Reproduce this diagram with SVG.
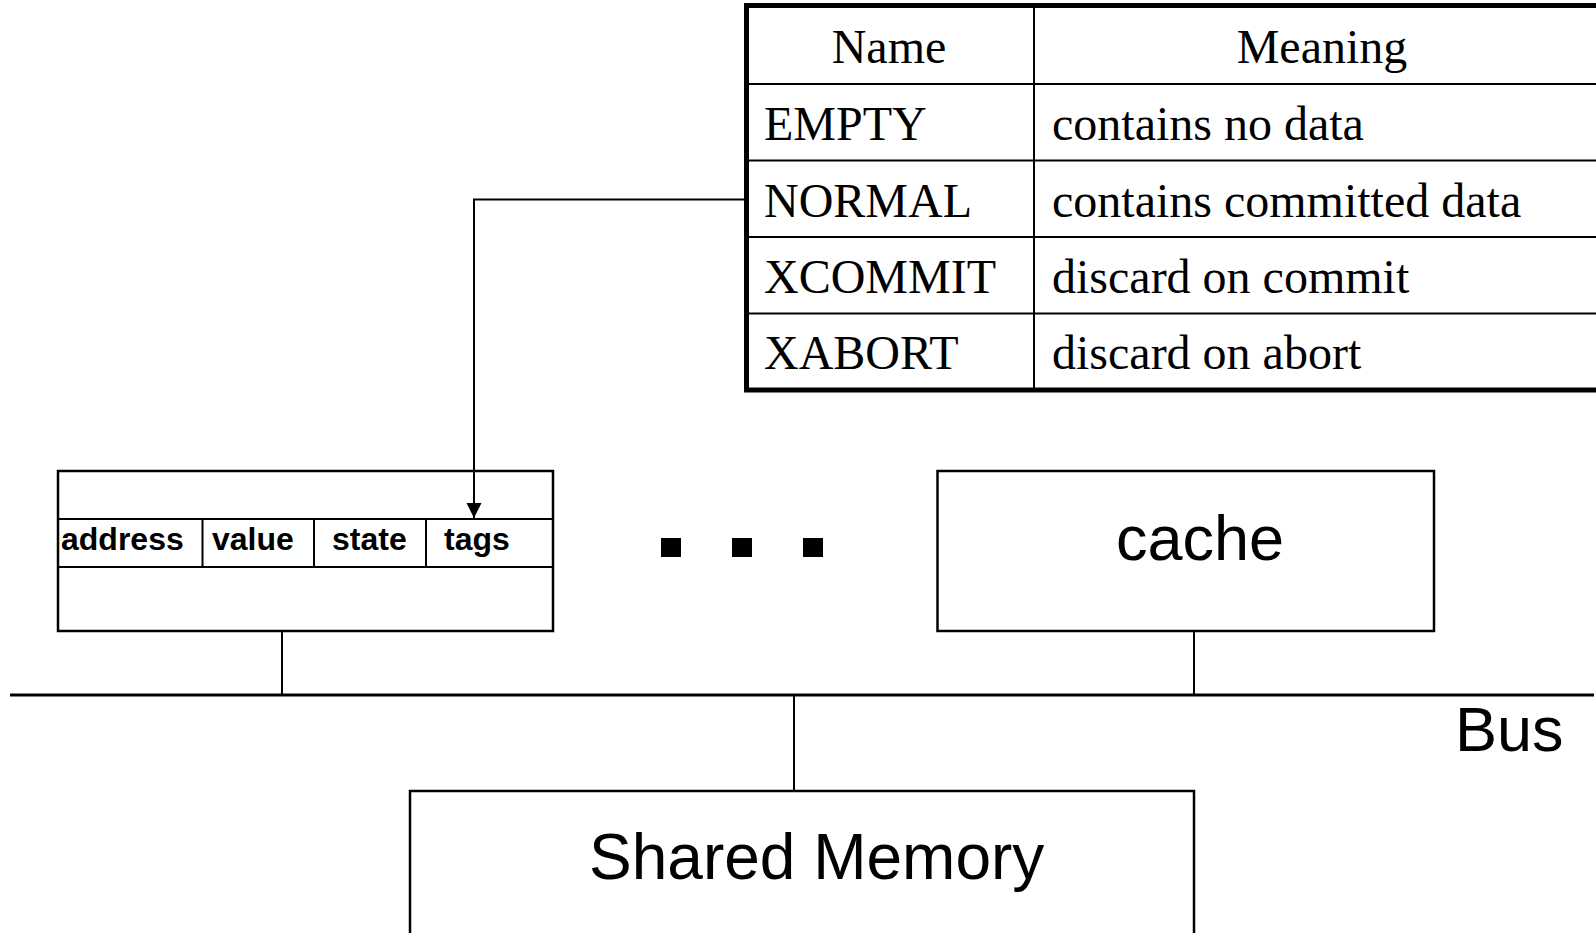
<svg xmlns="http://www.w3.org/2000/svg" width="1596" height="933" viewBox="0 0 1596 933">
<style>
.serif{font-family:"Liberation Serif","Times New Roman",serif;font-size:48px;fill:#000}
.sans{font-family:"Liberation Sans",Arial,sans-serif;font-size:63px;fill:#000}
.bold{font-family:"Liberation Sans",Arial,sans-serif;font-size:32px;font-weight:bold;fill:#000}
.thin{stroke:#000;stroke-width:2;fill:none}
.box{stroke:#000;stroke-width:2.5;fill:#fff}
</style>
<defs>
<marker id="arr" markerUnits="userSpaceOnUse" markerWidth="16" markerHeight="16" refX="15" refY="7.5" orient="auto">
<path d="M0,0 L15,7.5 L0,15 Z" fill="#000"/>
</marker>
</defs>
<rect width="1596" height="933" fill="#fff"/>

<g id="state-table">
<rect x="746.5" y="5.5" width="872" height="384.5" fill="#fff" stroke="#000" stroke-width="5"/>
<line class="thin" x1="1034" y1="6" x2="1034" y2="390"/>
<line class="thin" x1="749" y1="84" x2="1620" y2="84" stroke-width="2.5"/>
<line class="thin" x1="749" y1="160.5" x2="1620" y2="160.5" stroke-width="2.5"/>
<line class="thin" x1="749" y1="237" x2="1620" y2="237" stroke-width="2.5"/>
<line class="thin" x1="749" y1="313.5" x2="1620" y2="313.5" stroke-width="2.5"/>
<text class="serif" x="889" y="63" text-anchor="middle">Name</text>
<text class="serif" x="1322" y="63" text-anchor="middle">Meaning</text>
<text class="serif" x="764" y="139.5">EMPTY</text>
<text class="serif" x="1052" y="139.5">contains no data</text>
<text class="serif" x="764" y="216.5">NORMAL</text>
<text class="serif" x="1052" y="216.5">contains committed data</text>
<text class="serif" x="764" y="292.5">XCOMMIT</text>
<text class="serif" x="1052" y="292.5">discard on commit</text>
<text class="serif" x="764" y="369">XABORT</text>
<text class="serif" x="1052" y="369">discard on abort</text>
</g>

<g id="cache-line">
<rect class="box" x="58" y="471" width="495" height="160" stroke-width="2"/>
<line class="thin" x1="58" y1="519" x2="553" y2="519"/>
<line class="thin" x1="58" y1="567" x2="553" y2="567"/>
<line class="thin" x1="202.5" y1="519" x2="202.5" y2="567"/>
<line class="thin" x1="314" y1="519" x2="314" y2="567"/>
<line class="thin" x1="426" y1="519" x2="426" y2="567"/>
<text class="bold" x="61" y="549.5">address</text>
<text class="bold" x="212" y="549.5">value</text>
<text class="bold" x="332" y="549.5">state</text>
<text class="bold" x="444" y="549.5">tags</text>
</g>

<g id="ellipsis">
<rect x="661" y="538" width="20" height="19" fill="#000"/>
<rect x="732" y="538" width="20" height="19" fill="#000"/>
<rect x="803" y="538" width="20" height="19" fill="#000"/>
</g>

<g id="cache">
<rect class="box" x="937.5" y="471" width="496.5" height="160"/>
<text class="sans" x="1116" y="560">cache</text>
</g>

<g id="bus">
<line x1="10" y1="695" x2="1594" y2="695" stroke="#000" stroke-width="3"/>
<text class="sans" x="1455" y="750.5">Bus</text>
</g>

<g id="shared-memory">
<rect class="box" x="410" y="791" width="784" height="160" stroke-width="2.7"/>
<text class="sans" x="589" y="879" style="font-size:64px">Shared Memory</text>
</g>

<g id="connectors">
<polyline class="thin" points="744,199.5 474,199.5 474,518" marker-end="url(#arr)"/>
<line class="thin" x1="282" y1="632" x2="282" y2="694" stroke-width="1.5"/>
<line class="thin" x1="1194" y1="632" x2="1194" y2="694" stroke-width="1.5"/>
<line class="thin" x1="794" y1="696" x2="794" y2="790" stroke-width="1.5"/>
</g>
</svg>
